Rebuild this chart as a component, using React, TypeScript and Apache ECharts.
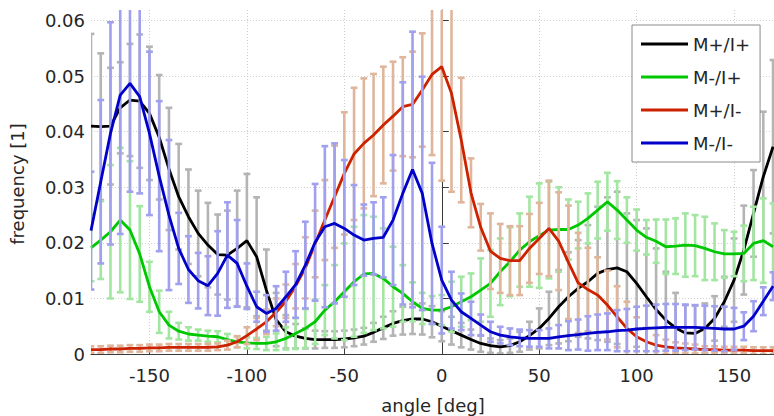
import { useEffect, useRef } from 'react';
import * as echarts from 'echarts';

// Angle bins (deg)
const angles = [
  -180, -175, -170, -165, -160, -155, -150, -145, -140, -135, -130, -125,
  -120, -115, -110, -105, -100, -95, -90, -85, -80, -75, -70, -65,
  -60, -55, -50, -45, -40, -35, -30, -25, -20, -15, -10, -5,
  0, 5, 10, 15, 20, 25, 30, 35, 40, 45, 50, 55,
  60, 65, 70, 75, 80, 85, 90, 95, 100, 105, 110, 115,
  120, 125, 130, 135, 140, 145, 150, 155, 160, 165, 170,
];

// M+/I+
const mpIpMean = [
  0.041, 0.0409, 0.041, 0.0443, 0.0457, 0.0455, 0.0433, 0.039, 0.0333, 0.0283, 0.0247, 0.0217,
  0.0196, 0.0179, 0.0178, 0.019, 0.0204, 0.0175, 0.0115, 0.0062, 0.004, 0.0032, 0.0028, 0.0026,
  0.0026, 0.0026, 0.0027, 0.0029, 0.0032, 0.0039, 0.0047, 0.0055, 0.006, 0.0063, 0.0063, 0.0058,
  0.005, 0.0042, 0.0034, 0.0026, 0.0019, 0.0015, 0.0013, 0.0015, 0.0022, 0.0033, 0.0046, 0.0064,
  0.0085, 0.0103, 0.0118, 0.013, 0.0145, 0.0152, 0.0155, 0.0148, 0.0127, 0.0103, 0.008, 0.0061,
  0.0047, 0.0038, 0.0037, 0.0046, 0.0064, 0.0094, 0.0133, 0.0187, 0.0253, 0.0319, 0.0373,
];
const mpIpErr = [
  0.0166, 0.0132, 0.0105, 0.0082, 0.0101, 0.012, 0.012, 0.0112, 0.011, 0.0095, 0.0085, 0.0077,
  0.0076, 0.0072, 0.008, 0.0104, 0.012, 0.0107, 0.0073, 0.0048, 0.003, 0.0022, 0.0018, 0.0016,
  0.0015, 0.0015, 0.0015, 0.0015, 0.0015, 0.0017, 0.002, 0.0022, 0.0025, 0.0027, 0.0028, 0.0028,
  0.0027, 0.0025, 0.0022, 0.0018, 0.0015, 0.0013, 0.0012, 0.0013, 0.0018, 0.0025, 0.0036, 0.0048,
  0.0066, 0.008, 0.0087, 0.0102, 0.012, 0.013, 0.0137, 0.0105, 0.0114, 0.0123, 0.011, 0.0087,
  0.0063, 0.005, 0.005, 0.0045, 0.004, 0.0045, 0.0075, 0.008, 0.0078, 0.0117, 0.0156,
];

// M-/I+
const mmIpMean = [
  0.0191, 0.0205, 0.022, 0.0241, 0.0223, 0.018, 0.0121, 0.0076, 0.0052, 0.0041, 0.0036, 0.0034,
  0.0032, 0.0031, 0.0026, 0.0022, 0.002, 0.0019, 0.0019, 0.0022, 0.0028, 0.0037, 0.0046, 0.0058,
  0.0079, 0.0094, 0.0112, 0.013, 0.0144, 0.0145, 0.0136, 0.0121, 0.0109, 0.0094, 0.0082, 0.0079,
  0.0079, 0.0085, 0.0094, 0.0103, 0.0115, 0.0127, 0.0148, 0.0166, 0.0187, 0.0202, 0.0213, 0.0223,
  0.0224, 0.0224, 0.0232, 0.0244, 0.0259, 0.0274, 0.0259, 0.0241, 0.0223, 0.021, 0.0203, 0.0193,
  0.0194, 0.0196, 0.0195, 0.019, 0.0184, 0.018, 0.018, 0.0181, 0.0199, 0.0204, 0.0193,
];
const mmIpErr = [
  0.006, 0.007, 0.012, 0.013, 0.0124, 0.0086, 0.0045, 0.0038, 0.0024, 0.0015, 0.0012, 0.001,
  0.001, 0.001, 0.001, 0.001, 0.001, 0.001, 0.0012, 0.0015, 0.002, 0.0028, 0.0035, 0.004,
  0.0045, 0.0066, 0.0087, 0.0099, 0.0106, 0.0102, 0.009, 0.0072, 0.0051, 0.0035, 0.0028, 0.0025,
  0.0027, 0.0045, 0.0045, 0.0042, 0.0057, 0.006, 0.006, 0.0062, 0.0066, 0.0081, 0.0094, 0.0087,
  0.0076, 0.0054, 0.0042, 0.0045, 0.0051, 0.0052, 0.0052, 0.0041, 0.0037, 0.0031, 0.0039, 0.0049,
  0.005, 0.0057, 0.0055, 0.0057, 0.0051, 0.0043, 0.004, 0.005, 0.0066, 0.0076, 0.0078,
];

// M+/I-
const mpImMean = [
  0.0008, 0.0008, 0.0009, 0.0009, 0.001, 0.001, 0.0011, 0.0011, 0.0012, 0.0012, 0.0012, 0.0012,
  0.0012, 0.0013, 0.0016, 0.0022, 0.0033, 0.0045, 0.0058, 0.0075, 0.0095, 0.0122, 0.0155, 0.0198,
  0.0241, 0.0283, 0.0325, 0.036, 0.0379, 0.0394, 0.0412, 0.0428, 0.0445, 0.0449, 0.0475, 0.0503,
  0.0517, 0.0469, 0.0385, 0.029, 0.0228, 0.0185, 0.0172, 0.0168, 0.0168, 0.019, 0.0208, 0.0226,
  0.0203, 0.0165, 0.0128, 0.0116, 0.0106, 0.0088, 0.0067, 0.0046, 0.0031, 0.0022, 0.0016, 0.0013,
  0.0011, 0.001, 0.0009, 0.0008, 0.0008, 0.0007, 0.0007, 0.0007, 0.0006, 0.0006, 0.0006,
];
const mpImErr = [
  0.0006, 0.0006, 0.0006, 0.0006, 0.0006, 0.0006, 0.0006, 0.0006, 0.0006, 0.0006, 0.0006, 0.0006,
  0.0006, 0.0006, 0.0008, 0.001, 0.0015, 0.002, 0.0022, 0.0025, 0.003, 0.004, 0.0055, 0.006,
  0.0072, 0.0092, 0.011, 0.0119, 0.0117, 0.011, 0.0105, 0.0098, 0.0089, 0.0095, 0.0102, 0.0145,
  0.0205, 0.0177, 0.0112, 0.0062, 0.0042, 0.0068, 0.0062, 0.0062, 0.0062, 0.0062, 0.0064, 0.0086,
  0.0088, 0.0102, 0.009, 0.0075, 0.0068, 0.0062, 0.0055, 0.0048, 0.0035, 0.0025, 0.0018, 0.0013,
  0.001, 0.0009, 0.0008, 0.0006, 0.0006, 0.0006, 0.0006, 0.0006, 0.0006, 0.0006, 0.0006,
];

// M-/I-
const mmImMean = [
  0.0222, 0.031, 0.0397, 0.0466, 0.0487, 0.0463, 0.0397, 0.032, 0.025, 0.019, 0.0152, 0.0132,
  0.0123, 0.0145, 0.0178, 0.0163, 0.0122, 0.0085, 0.0073, 0.0082, 0.0103, 0.0125, 0.016, 0.0201,
  0.0229, 0.0235, 0.0226, 0.0214, 0.0205, 0.0208, 0.021, 0.0241, 0.0289, 0.0332, 0.0289, 0.0199,
  0.0133, 0.0097, 0.0076, 0.0064, 0.0052, 0.004, 0.0034, 0.0031, 0.0029, 0.0028, 0.0028, 0.0028,
  0.0031, 0.0033, 0.0035, 0.0037, 0.0039, 0.004, 0.0042, 0.0043, 0.0045, 0.0046, 0.0047, 0.0048,
  0.0048, 0.0048, 0.0048, 0.0047, 0.0046, 0.0045, 0.0045, 0.005, 0.0068, 0.0095, 0.0122,
];
const mmImErr = [
  0.0106, 0.0147, 0.02, 0.025, 0.0195, 0.0174, 0.0147, 0.0135, 0.0135, 0.0064, 0.006, 0.005,
  0.0053, 0.0076, 0.0095, 0.0078, 0.0041, 0.0027, 0.0033, 0.004, 0.0045, 0.006, 0.0078, 0.0105,
  0.0145, 0.0144, 0.0123, 0.009, 0.0064, 0.0065, 0.0072, 0.0117, 0.02, 0.0248, 0.021, 0.0145,
  0.0096, 0.0051, 0.0033, 0.003, 0.0019, 0.0018, 0.0015, 0.0015, 0.0015, 0.0015, 0.0015, 0.0018,
  0.0021, 0.0026, 0.0027, 0.0031, 0.0032, 0.0033, 0.0037, 0.0038, 0.004, 0.0041, 0.0042, 0.0042,
  0.0042, 0.0041, 0.004, 0.004, 0.004, 0.004, 0.0038, 0.0025, 0.0027, 0.0025, 0.0025,
];

const xTicks = [-150, -100, -50, 0, 50, 100, 150];
const yTicks = [0, 0.01, 0.02, 0.03, 0.04, 0.05, 0.06];

const FONT = 'DejaVu Sans';
const TEXT = '#262626';

type Group = { name: string; mean: number[]; err: number[]; line: string; bar: string };

const groups: Group[] = [
  { name: 'M+/I+', mean: mpIpMean, err: mpIpErr, line: '#000000', bar: '#b4b4b4' },
  { name: 'M-/I+', mean: mmIpMean, err: mmIpErr, line: '#00c800', bar: '#a2e6a2' },
  { name: 'M+/I-', mean: mpImMean, err: mpImErr, line: '#cc2200', bar: '#dfb69c' },
  { name: 'M-/I-', mean: mmImMean, err: mmImErr, line: '#0000c8', bar: '#a0a0ee' },
];

// Vertical error bar with caps at both ends, one per angle bin
function errorBarSeries(g: Group, z: number) {
  const data = angles.map((a, i) => [a, g.mean[i] - g.err[i], g.mean[i] + g.err[i]]);
  return {
    type: 'custom',
    name: g.name + ' err',
    z,
    clip: true,
    silent: true,
    encode: { x: 0, y: [1, 2] },
    data,
    renderItem: (_params: any, api: any) => {
      const x = api.value(0);
      const top = api.coord([x, api.value(2)]);
      const bot = api.coord([x, api.value(1)]);
      const cap = 3.4;
      const style = { stroke: g.bar, lineWidth: 2.6, fill: 'none' };
      return {
        type: 'group',
        children: [
          { type: 'line', shape: { x1: top[0], y1: top[1], x2: bot[0], y2: bot[1] }, style },
          { type: 'line', shape: { x1: top[0] - cap, y1: top[1], x2: top[0] + cap, y2: top[1] }, style },
          { type: 'line', shape: { x1: bot[0] - cap, y1: bot[1], x2: bot[0] + cap, y2: bot[1] }, style },
        ],
      };
    },
  };
}

function lineSeries(g: Group, z: number) {
  return {
    type: 'line',
    name: g.name,
    z,
    data: angles.map((a, i) => [a, g.mean[i]]),
    showSymbol: false,
    symbol: 'none',
    smooth: false,
    color: g.line,
    lineStyle: { color: g.line, width: 2.8 },
    silent: true,
  };
}

export default function App() {
  const ref = useRef<HTMLDivElement>(null);

  useEffect(() => {
    if (!ref.current) return;
    const chart = echarts.init(ref.current, undefined, { renderer: 'svg' });
    const series: any[] = [];
    // each group: its error bars first, then its mean line on top
    groups.forEach((g, k) => {
      series.push(errorBarSeries(g, 1 + k * 2));
      series.push(lineSeries(g, 2 + k * 2));
    });

    chart.setOption({
      animation: false,
      backgroundColor: '#ffffff',
      textStyle: { fontFamily: FONT },
      grid: { left: 91, right: 0, top: 10, bottom: 62, containLabel: false },
      xAxis: {
        type: 'value',
        min: -180,
        max: 170.5,
        axisLine: { show: true, lineStyle: { color: '#3a3a3a', width: 1 } },
        axisTick: { show: true, inside: true, length: 7, customValues: xTicks, lineStyle: { color: '#3a3a3a' } },
        axisLabel: {
          customValues: xTicks,
          color: TEXT,
          fontSize: 18,
          fontFamily: FONT,
          margin: 12,
        },
        splitLine: { show: true, lineStyle: { color: '#cfcfcf', type: [1, 2], width: 1 } },
      },
      yAxis: {
        type: 'value',
        min: 0,
        max: 0.0619,
        axisLine: { show: true, lineStyle: { color: '#3a3a3a', width: 1 } },
        axisTick: { show: true, inside: true, length: 7, customValues: yTicks, lineStyle: { color: '#3a3a3a' } },
        axisLabel: {
          customValues: yTicks,
          color: TEXT,
          fontSize: 18,
          fontFamily: FONT,
          margin: 6,
          formatter: (v: number) => (v === 0 ? '0' : v.toFixed(2)),
        },
        splitLine: { show: true, lineStyle: { color: '#cfcfcf', type: [1, 2], width: 1 } },
      },
      legend: {
        data: groups.map((g) => g.name),
        orient: 'vertical',
        left: 632,
        top: 25,
        icon: 'rect',
        itemWidth: 47,
        itemHeight: 3,
        itemGap: 13,
        padding: [9, 10, 9, 9],
        backgroundColor: '#ffffff',
        borderColor: '#8a8a8a',
        borderWidth: 1,
        borderRadius: 0,
        selectedMode: false,
        textStyle: { color: TEXT, fontSize: 18, fontFamily: FONT, lineHeight: 20 },
      },
      graphic: [
        {
          type: 'text',
          x: 433,
          y: 405,
          style: { text: 'angle [deg]', fill: TEXT, font: `18px "${FONT}"`, align: 'center', verticalAlign: 'middle' },
        },
        {
          type: 'text',
          x: 17,
          y: 184,
          rotation: Math.PI / 2,
          style: { text: 'frequency [1]', fill: TEXT, font: `18px "${FONT}"`, align: 'center', verticalAlign: 'middle' },
        },
      ],
      series,
    });

    return () => chart.dispose();
  }, []);

  return <div ref={ref} style={{ position: 'fixed', left: 0, top: 0, width: 774, height: 416 }} />;
}
